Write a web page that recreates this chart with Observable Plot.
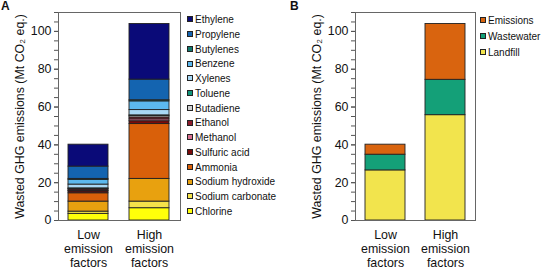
<!DOCTYPE html>
<html>
<head>
<meta charset="utf-8">
<script src="https://cdn.jsdelivr.net/npm/d3@7"></script>
<script src="https://cdn.jsdelivr.net/npm/@observablehq/plot@0.6"></script>
<style>
  body { margin: 0; background: #fff; }
  #wrap { position: relative; width: 543px; height: 269px; overflow: hidden; font-family: "Liberation Sans", Arial, sans-serif; color: #111; }
  .panel { position: absolute; top: 0; }
  .letter { position: absolute; font-weight: bold; font-size: 12px; line-height: 12px; }
  .leg { position: absolute; font-size: 10px; line-height: 12px; white-space: nowrap; }
  .sw { display: inline-block; width: 4px; height: 4px; border: 1px solid #222; vertical-align: middle; margin-right: 2px; position: relative; top: -1px; }
</style>
</head>
<body>
<div id="wrap"></div>
<script>
// ---- data ----
const categories = ["Low\nemission\nfactors", "High\nemission\nfactors"];

// panel A: bottom-to-top stacking order
const chemicals = ["Chlorine", "Sodium carbonate", "Sodium hydroxide", "Ammonia", "Sulfuric acid", "Methanol", "Ethanol", "Butadiene", "Toluene", "Xylenes", "Benzene", "Butylenes", "Propylene", "Ethylene"];
const chemLow  = [3.5, 1.2, 5.3, 4.4, 1.0, 0.3, 0.7, 0.3, 0.3, 2.0, 2.5, 0.5, 6.5, 11.6];
const chemHigh = [6.5, 3.5, 12.0, 29.0, 1.5, 1.0, 1.0, 0.8, 0.3, 2.8, 4.6, 0.6, 10.9, 29.4];
const chemColors = ["#ffff0a", "#f5e24a", "#e8a10f", "#d9600a", "#7a0a0a", "#d87090", "#8c1c2c", "#d0d0d0", "#10957a", "#a8d8f5", "#5cb8ee", "#127a6e", "#1464b0", "#0a0a78"];

// panel B
const sources = ["Landfill", "Wastewater", "Emissions"];
const srcLow  = [26.5, 8.3, 5.3];
const srcHigh = [55.7, 18.7, 29.5];
const srcColors = ["#f2e44d", "#14a078", "#d9640f"];

const yTicks = [0, 20, 40, 60, 80, 100];
const yLabel = "Wasted GHG emissions (Mt CO\u2082 eq.)";

// ---- build tables ----
const chemRows = [];
chemicals.forEach((c, i) => {
  chemRows.push({cat: categories[0], item: c, value: chemLow[i]});
  chemRows.push({cat: categories[1], item: c, value: chemHigh[i]});
});
const srcRows = [];
sources.forEach((s, i) => {
  srcRows.push({cat: categories[0], item: s, value: srcLow[i]});
  srcRows.push({cat: categories[1], item: s, value: srcHigh[i]});
});

function makePanel(rows, domain, range, width, marginLeft, marginRight) {
  return Plot.plot({
    width, height: 269,
    marginLeft, marginRight, marginTop: 12, marginBottom: 49,
    style: {fontFamily: "'Liberation Sans', Arial, sans-serif", fontSize: "12.4px", background: "transparent", color: "#111", overflow: "visible"},
    x: {domain: categories, paddingInner: 0.34, paddingOuter: 0.16, label: null},
    y: {domain: [0, 110], label: null},
    color: {domain, range},
    marks: [
      Plot.barY(rows, {x: "cat", y: "value", fill: "item", stroke: "#222", strokeWidth: 0.9, order: null}),
      Plot.frame({stroke: "#666"}),
      Plot.axisY({ticks: d3.range(0, 111, 5), tickSize: 4, tickFormat: () => "", label: null, stroke: "#555"}),
      Plot.axisY({ticks: yTicks, tickSize: 4, tickPadding: 3, stroke: "#555", label: yLabel, labelAnchor: "center", labelOffset: 43, labelArrow: "none"}),
      Plot.axisX({tickSize: 0, tickPadding: 8, lineHeight: 1.15, label: null})
    ]
  });
}

const wrap = document.getElementById("wrap");

const pA = makePanel(chemRows, chemicals, chemColors, 280, 58, 100);
pA.classList.add("panel"); pA.style.left = "0px";
wrap.appendChild(pA);

const pB = makePanel(srcRows, sources, srcColors, 263, 75, 68);
pB.classList.add("panel"); pB.style.left = "280px";
wrap.appendChild(pB);

function letter(t, x, y) {
  const d = document.createElement("div");
  d.className = "letter"; d.textContent = t;
  d.style.left = x + "px"; d.style.top = y + "px";
  wrap.appendChild(d);
}
letter("A", 1, 0);
letter("B", 290, 0);

function legend(items, colors, x, y0, dy) {
  // top-to-bottom: reverse of stacking order
  const n = items.length;
  for (let k = 0; k < n; k++) {
    const i = n - 1 - k;
    const d = document.createElement("div");
    d.className = "leg";
    d.style.left = x + "px";
    d.style.top = (y0 + k * dy - 6) + "px";
    const s = document.createElement("span");
    s.className = "sw"; s.style.background = colors[i];
    d.appendChild(s);
    d.appendChild(document.createTextNode(items[i]));
    wrap.appendChild(d);
  }
}
legend(chemicals, chemColors, 187, 20, 14.75);
legend(sources, srcColors, 480, 21, 16);
</script>
</body>
</html>
